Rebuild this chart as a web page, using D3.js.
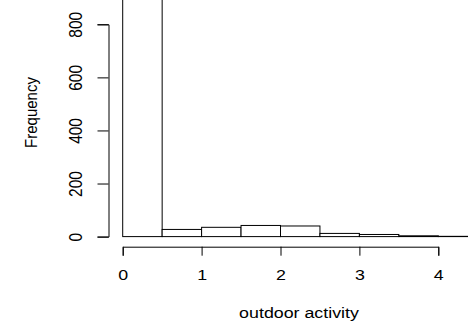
<!DOCTYPE html>
<html>
<head>
<meta charset="utf-8">
<script src="https://cdn.jsdelivr.net/npm/d3@7"></script>
<style>
  body { margin: 0; background: white; }
  svg { display: block; }
  text { font-family: "Liberation Sans", Arial, Helvetica, sans-serif; fill: black; }
</style>
</head>
<body>
<div id="chart"></div>
<script>
// histogram bins (left edge, right edge) and counts
var binStarts = [0, 0.5, 1, 1.5, 2, 2.5, 3, 3.5, 4];
var binEnds   = [0.5, 1, 1.5, 2, 2.5, 3, 3.5, 4, 4.5];
var counts    = [1150, 27, 35, 42, 40, 12, 8, 3, 1];
var xTicks = [0, 1, 2, 3, 4];
var yTicks = [0, 200, 400, 600, 800];

var width = 468, height = 322;
var stretch = "scale(1.15,1)"; // text in the picture is a bit wider than tall

var svg = d3.select("#chart").append("svg")
  .attr("width", width)
  .attr("height", height);

var x = d3.scaleLinear().domain([0, 4]).range([122.7, 438.3]);
var y = d3.scaleLinear().domain([0, 800]).range([236.6, 24.3]);

//bars
svg.selectAll("rect.bar")
  .data(counts)
  .enter()
  .append("rect")
  .attr("class", "bar")
  .attr("x", function(d, i){ return x(binStarts[i]); })
  .attr("y", function(d){ return y(d); })
  .attr("width", function(d, i){ return x(binEnds[i]) - x(binStarts[i]); })
  .attr("height", function(d){ return y(0) - y(d); })
  .attr("fill", "white")
  .attr("stroke", "black")
  .attr("stroke-width", 1);

//x axis
var xAxis = d3.axisBottom(x)
  .tickValues(xTicks)
  .tickSize(9)
  .tickFormat(d3.format("d"));
var gx = svg.append("g")
  .attr("transform", "translate(0,246.7)")
  .call(xAxis);
gx.selectAll(".tick text")
  .style("font-size", "15.5px")
  .attr("y", 33.3).attr("dy", null)
  .attr("transform", stretch);

//y axis
var yAxis = d3.axisLeft(y)
  .tickValues(yTicks)
  .tickSize(11);
var gy = svg.append("g")
  .attr("transform", "translate(108.5,0)")
  .call(yAxis);
gy.selectAll(".tick text")
  .style("font-size", "15.5px")
  .attr("x", null).attr("dy", null)
  .attr("text-anchor", "middle")
  .attr("transform", "translate(-27,0) " + stretch + " rotate(-90)");

svg.selectAll(".domain, .tick line").attr("stroke", "black");

//labels
svg.append("text")
  .attr("text-anchor", "middle")
  .style("font-size", "15.5px")
  .attr("transform", "translate(299,318) " + stretch)
  .text("outdoor activity");

svg.append("text")
  .attr("text-anchor", "middle")
  .style("font-size", "15px")
  .attr("transform", "translate(37,112.5) " + stretch + " rotate(-90)")
  .text("Frequency");
</script>
</body>
</html>
